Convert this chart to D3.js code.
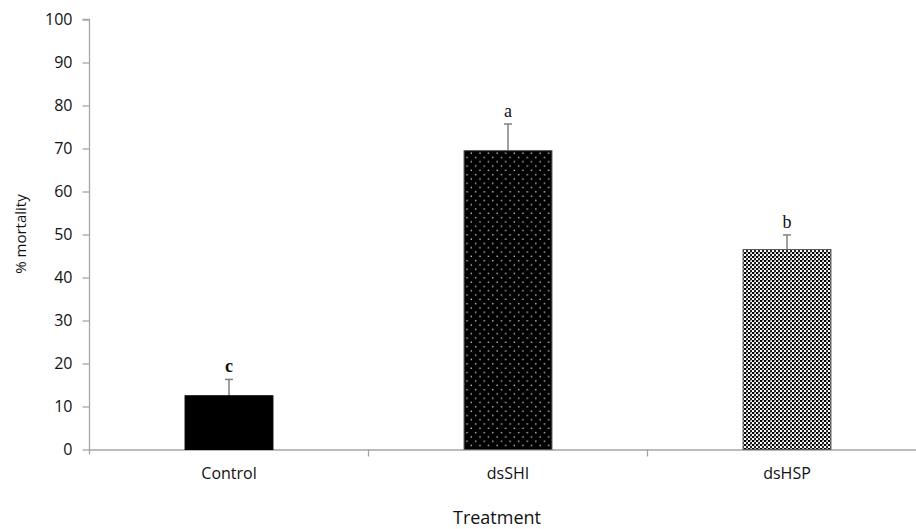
<!DOCTYPE html>
<html><head><meta charset="utf-8">
<script src="https://cdn.jsdelivr.net/npm/d3@7"></script>
<style>body{margin:0;background:#fff}svg{display:block}</style>
</head><body>
<svg id="chart" width="916" height="529"></svg>
<script>
const categories = ["Control", "dsSHI", "dsHSP"];
const values = [12.5, 69.5, 46.5];
const errors = [3.8, 6.2, 3.4];
const letters = ["c", "a", "b"];
const yTicks = [0,10,20,30,40,50,60,70,80,90,100];

const svg = d3.select("#chart");
const defs = svg.append("defs");
// dotted black pattern
const p1 = defs.append("pattern").attr("id","pDots").attr("patternUnits","userSpaceOnUse")
  .attr("width",8.6).attr("height",8.6);
p1.append("rect").attr("width",8.6).attr("height",8.6).attr("fill","#000");
p1.append("rect").attr("x",2).attr("y",2).attr("width",1.3).attr("height",1.3).attr("fill","#e0e0e0");
p1.append("rect").attr("x",6.3).attr("y",6.3).attr("width",1.3).attr("height",1.3).attr("fill","#e0e0e0");
// dense dotted white pattern
const p2 = defs.append("pattern").attr("id","pDense").attr("patternUnits","userSpaceOnUse")
  .attr("width",4).attr("height",4);
p2.append("rect").attr("width",4).attr("height",4).attr("fill","#fff");
p2.append("rect").attr("x",0).attr("y",0).attr("width",2).attr("height",2).attr("fill","#000");
p2.append("rect").attr("x",2).attr("y",2).attr("width",2).attr("height",2).attr("fill","#222");
p2.append("rect").attr("x",2).attr("y",0).attr("width",1.4).attr("height",1.4).attr("fill","#888");
const fills = ["#000", "url(#pDots)", "url(#pDense)"];

const x = d3.scaleBand().domain(categories).range([89.5, 926.5]).paddingInner(0).paddingOuter(0);
const y = d3.scaleLinear().domain([0,100]).range([449.5, 19.5]);
const axisColor = "#a6a6a6";
const font = "'Open Sans', 'Noto Sans', sans-serif";

// y axis
const yAxis = svg.append("g").attr("transform","translate(89.5,0)")
  .call(d3.axisLeft(y).tickValues(yTicks).tickSize(7).tickPadding(10));
yAxis.select(".domain").attr("stroke",axisColor).attr("stroke-width",1.3)
  .attr("d", `M-7,${y(100)}H0V${y(0)+5}`);
yAxis.selectAll(".tick line").attr("stroke",axisColor).attr("stroke-width",1.3);
yAxis.selectAll(".tick text").attr("fill","#111").style("font-family",font).style("font-size","16px");

// x axis
const xAxis = svg.append("g").attr("transform",`translate(0,${y(0)})`)
  .call(d3.axisBottom(x).tickSize(0).tickPadding(18));
xAxis.select(".domain").attr("stroke",axisColor).attr("stroke-width",1.3);
xAxis.selectAll(".tick text").attr("fill","#111").style("font-family",font).style("font-size","16px");
// category separators
const sepG = svg.append("g");
categories.slice(1).forEach(c => {
  sepG.append("line").attr("x1",x(c)).attr("x2",x(c)).attr("y1",y(0)).attr("y2",y(0)+7)
    .attr("stroke",axisColor).attr("stroke-width",1.3);
});

// bars
const bw = x.bandwidth()*0.315;
const g = svg.append("g");
categories.forEach((c,i) => {
  const cx = x(c) + x.bandwidth()/2;
  g.append("line").attr("x1",cx).attr("x2",cx).attr("y1",y(values[i])).attr("y2",y(values[i]+errors[i]))
    .attr("stroke","#808080").attr("stroke-width",1.5);
  g.append("line").attr("x1",cx-4).attr("x2",cx+4).attr("y1",y(values[i]+errors[i])).attr("y2",y(values[i]+errors[i]))
    .attr("stroke","#808080").attr("stroke-width",1.5);
  g.append("rect").attr("x",cx-bw/2).attr("y",y(values[i])).attr("width",bw).attr("height",y(0)-y(values[i]))
    .attr("fill",fills[i]).attr("stroke",i===0?"#000":"#555").attr("stroke-width",1);
  g.append("text").attr("x",cx).attr("y",y(values[i]+errors[i])-7).attr("text-anchor","middle")
    .style("font-family","'Liberation Serif','Times New Roman',serif").style("font-size","18px")
    .style("font-weight", i===0?"bold":"normal").attr("fill","#111").text(letters[i]);
});

// axis titles
svg.append("text").attr("x",497).attr("y",524).attr("text-anchor","middle")
  .style("font-family",font).style("font-size","18px").attr("fill","#111").text("Treatment");
svg.append("text").attr("transform","translate(26,234) rotate(-90)").attr("text-anchor","middle")
  .style("font-family",font).style("font-size","15px").attr("fill","#111").text("% mortality");
</script>
</body></html>
